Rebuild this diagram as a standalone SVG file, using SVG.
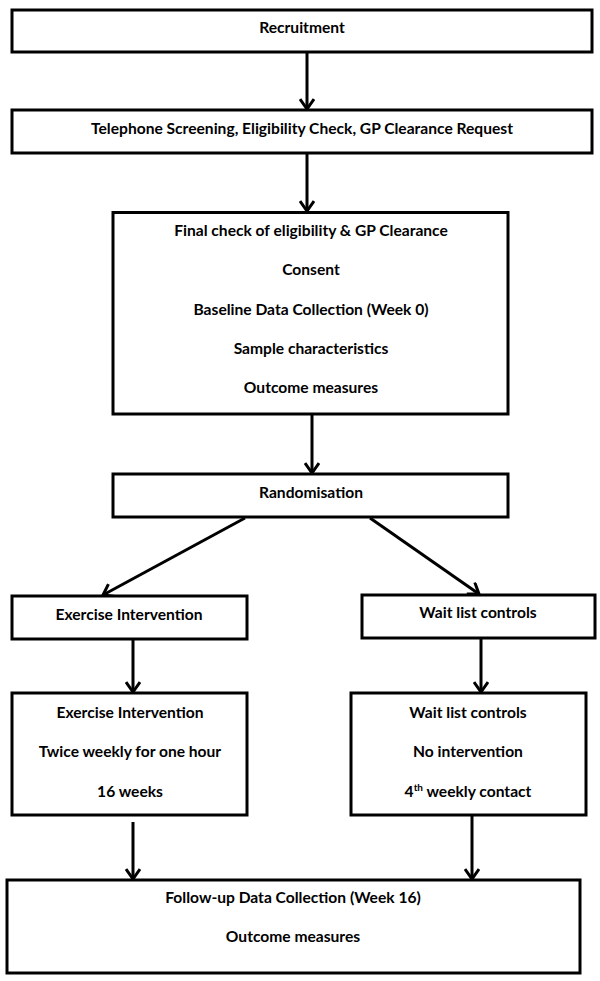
<svg xmlns="http://www.w3.org/2000/svg" width="600" height="981" viewBox="0 0 600 981">
<style>
.box{fill:#fff;stroke:#000;stroke-width:3}
.t{font-family:Lato,"Liberation Sans",sans-serif;font-weight:bold;font-size:15.6px;fill:#000;text-anchor:middle}
.c{stroke:#000;stroke-width:3;fill:none;marker-end:url(#ah)}
</style>
<defs>
<marker id="ah" markerUnits="userSpaceOnUse" viewBox="-12 -8 14 16" markerWidth="14" markerHeight="16" refX="0" refY="0" orient="auto">
<path d="M-10,-7 L0,0 L-10,7" fill="none" stroke="#000" stroke-width="3"/>
</marker>
</defs>
<rect width="600" height="981" fill="#fff"/>
<g id="connectors">
<line class="c" x1="307" y1="52" x2="307" y2="109"/>
<line class="c" x1="307" y1="153" x2="307" y2="211"/>
<line class="c" x1="312" y1="414" x2="312" y2="473"/>
<line class="c" x1="245" y1="518" x2="103" y2="595"/>
<line class="c" x1="370" y1="518" x2="479" y2="594"/>
<line class="c" x1="133" y1="639" x2="133" y2="692"/>
<line class="c" x1="481" y1="638" x2="481" y2="692"/>
<line class="c" x1="133" y1="822" x2="133" y2="879"/>
<line class="c" x1="472" y1="815" x2="472" y2="879"/>
</g>
<g id="recruitment"><rect class="box" x="12" y="10" width="580" height="42"/><text class="t" x="302" y="33">Recruitment</text></g>
<g id="screening"><rect class="box" x="12" y="110" width="580" height="43"/><text class="t" x="302" y="134">Telephone Screening, Eligibility Check, GP Clearance Request</text></g>
<g id="baseline"><rect class="box" x="113" y="212.5" width="395" height="201.5"/>
<text class="t" x="311" y="236">Final check of eligibility &amp; GP Clearance</text>
<text class="t" x="311" y="275">Consent</text>
<text class="t" x="311" y="315">Baseline Data Collection (Week 0)</text>
<text class="t" x="311" y="354">Sample characteristics</text>
<text class="t" x="311" y="393">Outcome measures</text></g>
<g id="randomisation"><rect class="box" x="113" y="474" width="395" height="43"/><text class="t" x="311" y="498">Randomisation</text></g>
<g id="exercise"><rect class="box" x="12" y="596" width="235" height="43"/><text class="t" x="129" y="620">Exercise Intervention</text></g>
<g id="waitlist"><rect class="box" x="362" y="595" width="233" height="43"/><text class="t" x="478" y="618">Wait list controls</text></g>
<g id="exercise-detail"><rect class="box" x="12" y="693" width="235" height="122"/>
<text class="t" x="130" y="718">Exercise Intervention</text>
<text class="t" x="130" y="757">Twice weekly for one hour</text>
<text class="t" x="130" y="797">16 weeks</text></g>
<g id="waitlist-detail"><rect class="box" x="351" y="693" width="235" height="122"/>
<text class="t" x="468" y="718">Wait list controls</text>
<text class="t" x="468" y="757">No intervention</text>
<text class="t" x="468" y="797">4<tspan font-size="10" dy="-6">th</tspan><tspan dy="6"> weekly contact</tspan></text></g>
<g id="followup"><rect class="box" x="7" y="880" width="573" height="93"/>
<text class="t" x="293" y="903">Follow-up Data Collection (Week 16)</text>
<text class="t" x="293" y="942">Outcome measures</text></g>
</svg>
